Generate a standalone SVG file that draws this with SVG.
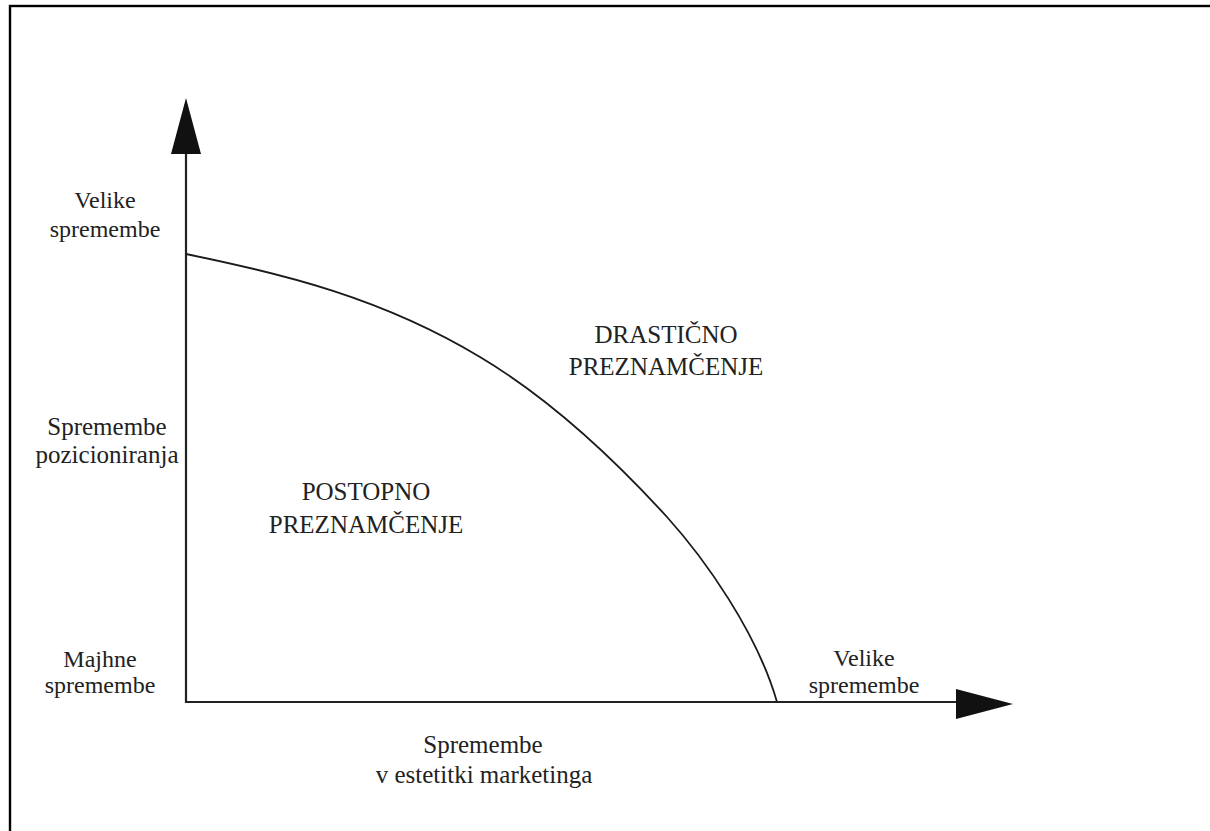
<svg xmlns="http://www.w3.org/2000/svg" width="1210" height="831" viewBox="0 0 1210 831">
  <style>
    .lbl { font-family: "Liberation Serif", "Times New Roman", serif; fill: #222; text-anchor: middle; }
    .sm { font-size: 24px; }
    .md { font-size: 25px; }
    .axis { stroke: #222; stroke-width: 2.2; fill: none; }
    .curve { stroke: #1a1a1a; stroke-width: 1.8; fill: none; }
    .head { fill: #111; }
  </style>

  <rect x="0" y="0" width="1210" height="831" fill="#fff"/>
  <!-- outer frame (open at right and bottom edges) -->
  <rect x="10" y="6" width="1240" height="860" fill="none" stroke="#000" stroke-width="2.4"/>

  <g id="connectors">
    <!-- vertical axis -->
    <line class="axis" x1="186" y1="150" x2="186" y2="703"/>
    <polygon class="head" points="186,98 171,154 201,154"/>
    <!-- horizontal axis -->
    <line class="axis" x1="185" y1="702" x2="960" y2="702"/>
    <polygon class="head" points="1013,704 956,689 956,719"/>
    <!-- boundary curve -->
    <path class="curve" d="M186,254 C284,274 382,298 480,357 C542,394 605,449 667,517 C704,558 757,632 777,702"/>
  </g>

  <g id="y-high">
    <text class="lbl sm" x="105" y="208">Velike</text>
    <text class="lbl sm" x="105" y="237">spremembe</text>
  </g>

  <g id="y-title">
    <text class="lbl md" x="107" y="435">Spremembe</text>
    <text class="lbl md" x="107" y="463">pozicioniranja</text>
  </g>

  <g id="y-low">
    <text class="lbl sm" x="100" y="667">Majhne</text>
    <text class="lbl sm" x="100" y="693">spremembe</text>
  </g>

  <g id="x-high">
    <text class="lbl sm" x="864" y="666">Velike</text>
    <text class="lbl sm" x="864" y="693">spremembe</text>
  </g>

  <g id="x-title">
    <text class="lbl md" x="483" y="753">Spremembe</text>
    <text class="lbl md" x="484" y="783">v estetitki marketinga</text>
  </g>

  <g id="region-drastic">
    <text class="lbl md" x="666" y="343">DRASTIČNO</text>
    <text class="lbl md" x="666" y="375">PREZNAMČENJE</text>
  </g>

  <g id="region-gradual">
    <text class="lbl md" x="366" y="500">POSTOPNO</text>
    <text class="lbl md" x="366" y="533">PREZNAMČENJE</text>
  </g>
</svg>
